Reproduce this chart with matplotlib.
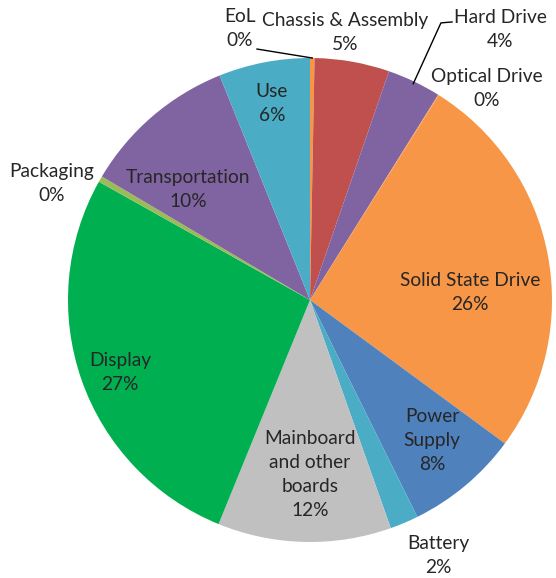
import numpy as np
import matplotlib
matplotlib.use("Agg")
import matplotlib.pyplot as plt

# share of each stage (clockwise from 12 o'clock)
categories = ["EoL", "Chassis & Assembly", "Hard Drive", "Optical Drive",
              "Solid State Drive", "Power Supply", "Battery",
              "Mainboard and other boards", "Display", "Packaging",
              "Transportation", "Use"]
shares = [0.3, 5.0, 3.6, 0.05, 26.2, 7.6, 1.9, 11.6, 27.0, 0.4, 10.4, 6.1]
label_text = ["EoL", "Chassis & Assembly", "Hard Drive", "Optical Drive",
              "Solid State Drive", "Power\nSupply", "Battery",
              "Mainboard\nand other\nboards", "Display", "Packaging",
              "Transportation", "Use"]

colors = ["#F79646", "#C0504D", "#8064A2", "#F79646", "#F79646", "#4F81BD",
          "#4BACC6", "#C0C0C0", "#00B050", "#9BBB59", "#8064A2", "#4BACC6"]

# label centres in pie units (radius = 1)
label_pos = [(-0.29, 1.12), (0.145, 1.107), (0.785, 1.116), (0.731, 0.876),
             (0.66, 0.033), (0.504, -0.579), (0.529, -1.054), (0.0, -0.723),
             (-0.785, -0.298), (-1.066, 0.483), (-0.504, 0.455), (-0.157, 0.814)]

plt.rcParams['font.family'] = ['Lato', 'DejaVu Sans']

fig = plt.figure(figsize=(5.56, 5.78), dpi=100)
ax = fig.add_axes([68 / 556, 36 / 578, 484 / 556, 484 / 578])

wedges, _ = ax.pie(shares, colors=colors, startangle=90, counterclock=False,
                   radius=1, center=(0, 0), frame=True)
ax.set_xlim(-1, 1)
ax.set_ylim(-1, 1)
ax.set_aspect('auto')
ax.axis('off')

total = sum(shares)
for name, v, (x, y) in zip(label_text, shares, label_pos):
    ax.text(x, y, "%s\n%d%%" % (name, round(v / total * 100)), ha='center',
            va='center', fontsize=13.8, color='#262626', linespacing=1.5,
            clip_on=False)

def edge(w, r):
    a = np.deg2rad((w.theta1 + w.theta2) / 2)
    return r * np.cos(a), r * np.sin(a)

# leader lines for the thin slices
ex, ey = edge(wedges[0], 1.0)
ax.plot([-0.219, ex], [1.037, ey], color='black', lw=1, clip_on=False)
hx, hy = edge(wedges[2], 0.99)
ax.plot([hx, 0.541, 0.587], [hy, 1.145, 1.149], color='black', lw=1, clip_on=False)

fig.savefig("out.png", dpi=100)
